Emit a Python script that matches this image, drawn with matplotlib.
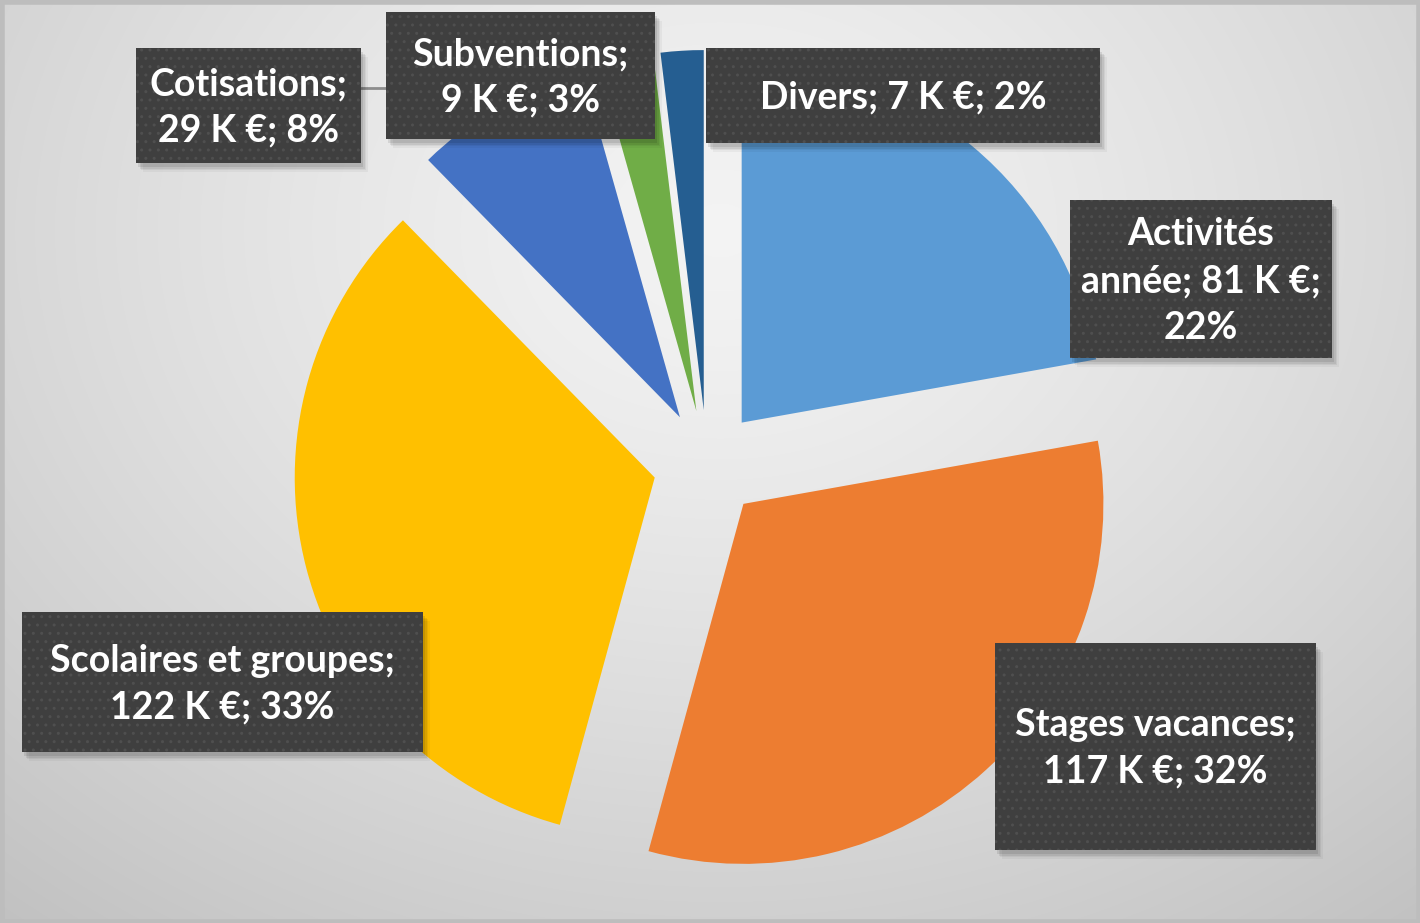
import numpy as np
import matplotlib.pyplot as plt
from matplotlib.patches import Rectangle

# Data
categories = ["Activités année", "Stages vacances", "Scolaires et groupes",
              "Cotisations", "Subventions", "Divers"]
values_k = [81, 117, 122, 29, 9, 7]
percents = [22, 32, 33, 8, 3, 2]
colors = ["#5B9BD5", "#ED7D31", "#FFC000", "#4472C4", "#70AD47", "#255E91"]

# label wrapping as in the original chart
label_templates = [
    "Activités\nannée; {v} K €;\n{p}%",
    "Stages vacances;\n{v} K €; {p}%",
    "Scolaires et groupes;\n{v} K €; {p}%",
    "Cotisations;\n{v} K €; {p}%",
    "Subventions;\n{v} K €; {p}%",
    "Divers; {v} K €; {p}%",
]

W, H = 1420, 923
labels = [t.format(v=v, p=p) for t, v, p in zip(label_templates, values_k, percents)]

# label boxes in image pixels (x0, y0, x1, y1)
boxes = [
    (1070, 200, 1332, 358),
    (995, 643, 1316, 850),
    (22, 612, 423, 752),
    (136, 48, 361, 163),
    (386, 12, 655, 139),
    (706, 48, 1100, 143),
]

fig = plt.figure(figsize=(W / 100, H / 100), dpi=100)
ax = fig.add_axes([0, 0, 1, 1])

# background: soft radial gradient
yy, xx = np.mgrid[0:H, 0:W]
dist = np.sqrt(((xx - 720) / 1000.0) ** 2 + ((yy - 230) / 800.0) ** 2)
shade = 0.955 - 0.17 * np.clip(dist, 0, 1.2) ** 1.3
ax.imshow(np.dstack([shade] * 3), extent=[0, W, 0, H], origin="upper", zorder=0)
ax.add_patch(Rectangle((1.5, 1.5), W - 3, H - 3, facecolor="none",
                       edgecolor="#bdbdbd", linewidth=4, zorder=1))

# pie (explode is in data units here, since radius is in pixels)
cx, cy, r = 707, H - 464, 360
wedges, _ = ax.pie(values_k, colors=colors, startangle=90, counterclock=False,
                   center=(cx, cy), radius=r, explode=[54] * len(values_k),
                   wedgeprops=dict(linewidth=0), frame=True)
ax.set_xlim(0, W)
ax.set_ylim(0, H)
ax.set_aspect("equal")
ax.axis("off")
for w in wedges:
    w.set_zorder(3)

# leader line for Cotisations
ax.plot([361, 386], [H - 88, H - 88], color="#8c8c8c", linewidth=2, zorder=4)

for lab, (x0, y0, x1, y1) in zip(labels, boxes):
    bw, bh = x1 - x0, y1 - y0
    # drop shadow
    for k, a in enumerate([0.09, 0.07, 0.05, 0.04]):
        ax.add_patch(Rectangle((x0 + 2 + k * 1.5, H - y1 - 4 - k * 1.5), bw, bh,
                               facecolor="black", alpha=a, linewidth=0, zorder=5))
    ax.add_patch(Rectangle((x0, H - y1), bw, bh, facecolor="#3f3f3f",
                           edgecolor="#3f3f3f", linewidth=0, zorder=6))
    ax.add_patch(Rectangle((x0, H - y1), bw, bh, facecolor="none",
                           edgecolor="#4f4f4f", linewidth=0, hatch="..", zorder=7))
    ax.text((x0 + x1) / 2, H - (y0 + y1) / 2 - 2, lab, ha="center", va="center",
            color="white", fontsize=27, fontweight="bold", family="Lato",
            linespacing=1.45, zorder=8)

fig.savefig("out.png", dpi=100)
